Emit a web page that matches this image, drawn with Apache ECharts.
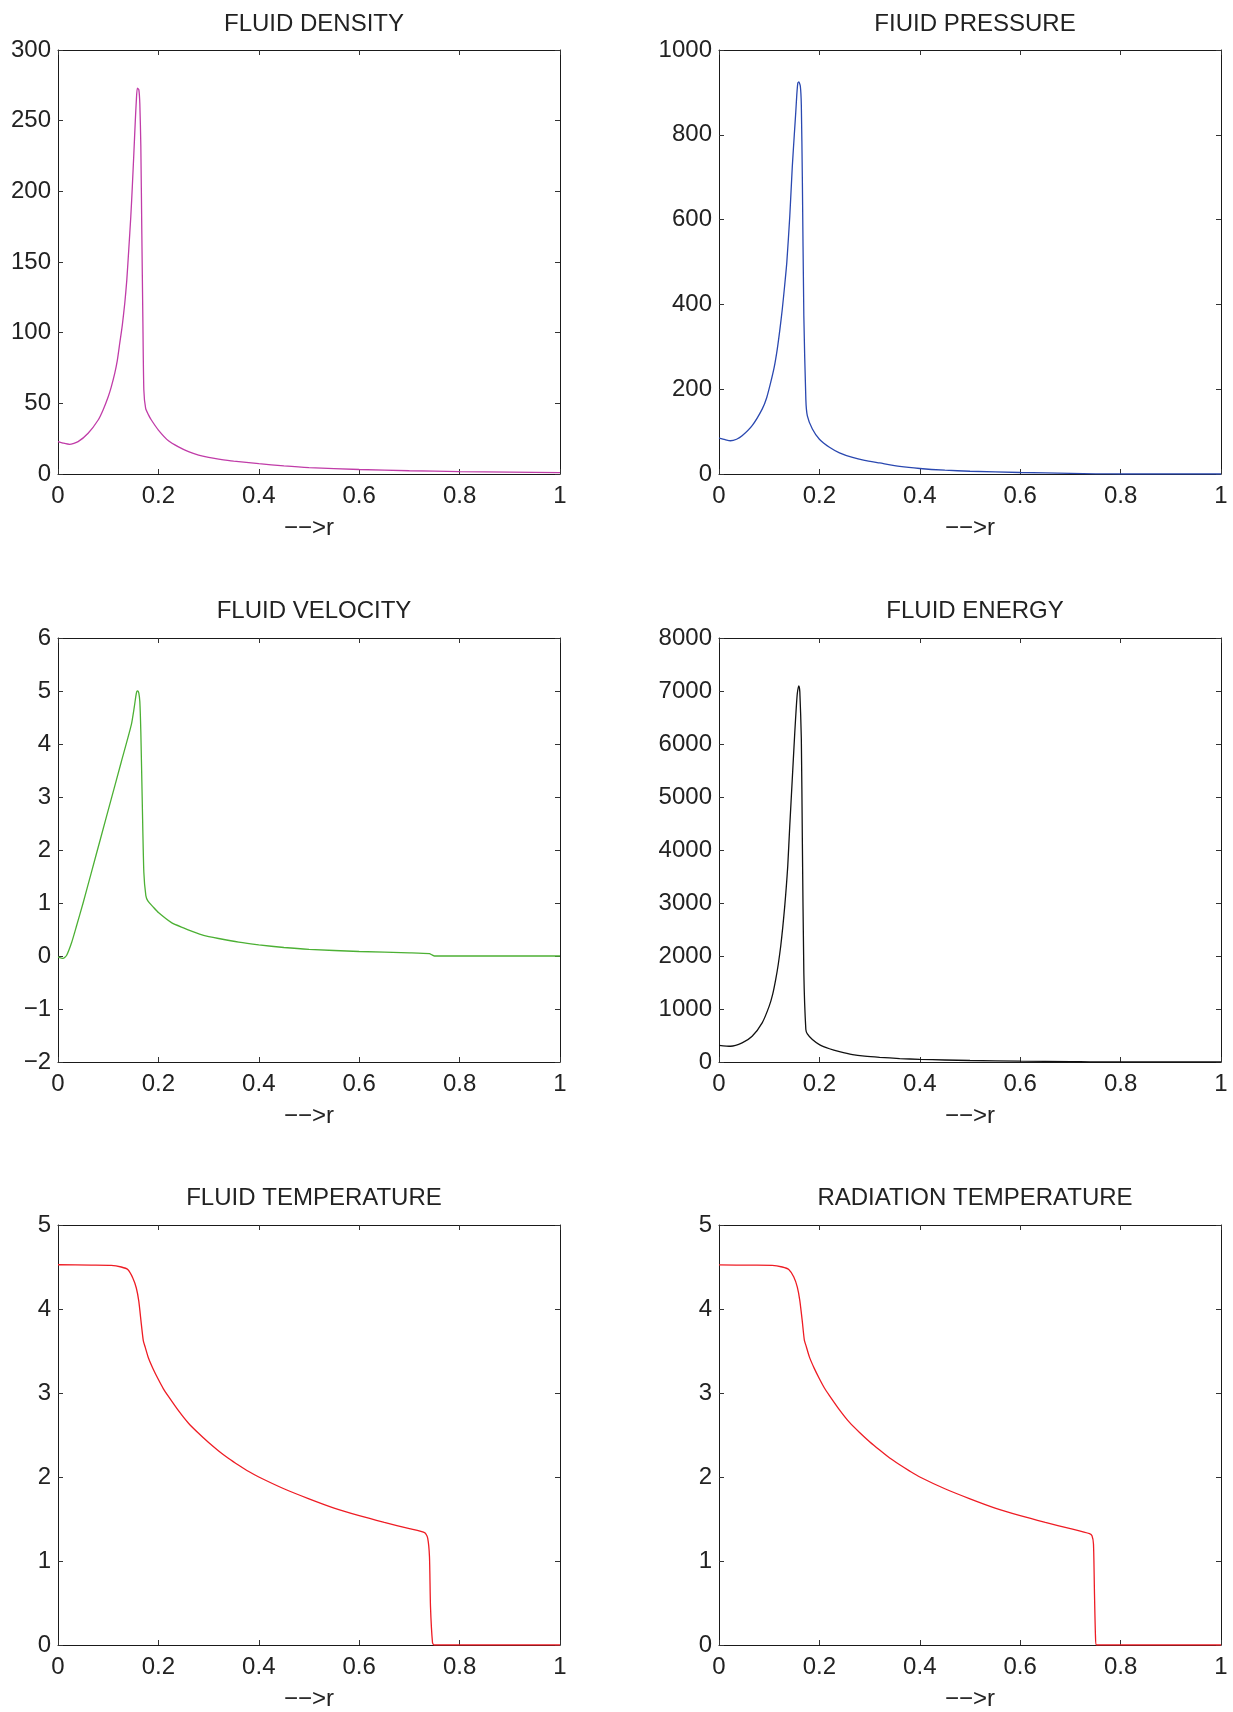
<!DOCTYPE html>
<html>
<head>
<meta charset="utf-8">
<script src="https://cdn.jsdelivr.net/npm/echarts@6/dist/echarts.min.js"></script>
<style>
html,body{margin:0;padding:0;background:#fff;}
#chart{width:1233px;height:1712px;}
</style>
</head>
<body>
<div id="chart"></div>
<script>
// ---- Data ----
const titles = ['FLUID DENSITY', 'FIUID PRESSURE', 'FLUID VELOCITY', 'FLUID ENERGY', 'FLUID TEMPERATURE', 'RADIATION TEMPERATURE'];
const xAxisName = '\u2212\u2212>r';
const xTicks = [0, 0.2, 0.4, 0.6, 0.8, 1];

const densityR = [0, 0.01, 0.023, 0.04, 0.06, 0.08, 0.09, 0.1, 0.106, 0.113, 0.118, 0.123, 0.128, 0.133, 0.137, 0.141, 0.145, 0.148, 0.151, 0.154, 0.156, 0.158, 0.161, 0.163, 0.165, 0.167, 0.169, 0.171, 0.1746, 0.18, 0.186, 0.2, 0.22, 0.24, 0.26, 0.28, 0.3, 0.32, 0.35, 0.4, 0.45, 0.5, 0.6, 0.7, 0.8, 0.9, 1.0];
const densityV = [22.9, 21.9, 21.0, 22.9, 28.8, 38.2, 45.5, 54.7, 61.5, 71.2, 80, 92.5, 105, 120.8, 137, 159, 182, 203, 226, 250, 264, 273, 272, 262, 232, 170, 111, 59.4, 46.5, 42, 38.2, 31.1, 23.5, 19.2, 15.8, 13.4, 11.8, 10.6, 9.1, 7.3, 5.7, 4.5, 3.2, 2.3, 1.7, 1.3, 1.0];

const pressureR = [0, 0.012, 0.023, 0.035, 0.046, 0.066, 0.086, 0.095, 0.103, 0.11, 0.116, 0.121, 0.126, 0.131, 0.135, 0.141, 0.146, 0.15, 0.153, 0.155, 0.157, 0.159, 0.162, 0.164, 0.166, 0.169, 0.173, 0.176, 0.186, 0.2, 0.22, 0.24, 0.266, 0.29, 0.32, 0.36, 0.4, 0.45, 0.5, 0.6, 0.7, 0.75, 0.8, 1.0];
const pressureV = [84.7, 81, 78.4, 82, 90, 114, 153, 180, 216, 252, 294, 338, 388, 447, 498, 608, 725, 800, 855, 895, 922, 925, 915, 870, 700, 372, 176, 137, 106, 82, 63, 50, 39, 32, 26, 18, 13, 9, 6.5, 3.5, 1.5, 0.5, 0, 0];

const velocityR = [0, 0.01, 0.017, 0.027, 0.037, 0.05, 0.066, 0.086, 0.106, 0.126, 0.146, 0.152, 0.155, 0.157, 0.159, 0.161, 0.163, 0.165, 0.168, 0.171, 0.175, 0.179, 0.19, 0.2, 0.226, 0.25, 0.266, 0.29, 0.32, 0.36, 0.4, 0.45, 0.5, 0.6, 0.7, 0.74, 0.745, 0.75, 1.0];
const velocityV = [-0.02, -0.045, 0.01, 0.25, 0.57, 1.0, 1.56, 2.26, 2.96, 3.66, 4.36, 4.7, 4.9, 4.99, 5.0, 4.96, 4.8, 4.23, 2.84, 1.58, 1.14, 1.04, 0.92, 0.82, 0.63, 0.53, 0.47, 0.39, 0.33, 0.26, 0.21, 0.16, 0.125, 0.085, 0.06, 0.045, 0.02, 0, 0];

const energyR = [0, 0.023, 0.046, 0.066, 0.086, 0.1, 0.107, 0.113, 0.118, 0.123, 0.127, 0.131, 0.134, 0.137, 0.141, 0.146, 0.151, 0.154, 0.156, 0.159, 0.161, 0.164, 0.166, 0.169, 0.173, 0.176, 0.186, 0.2, 0.22, 0.24, 0.266, 0.29, 0.32, 0.36, 0.4, 0.45, 0.5, 0.6, 0.7, 0.75, 1.0];
const energyV = [315, 297, 360, 486, 738, 1054, 1280, 1558, 1840, 2189, 2540, 2946, 3300, 3703, 4461, 5344, 6227, 6700, 6953, 7098, 6984, 6101, 4208, 1685, 612, 530, 423, 328, 250, 195, 139, 110, 88, 65, 50, 38, 28, 15, 8, 0, 0];

const fluidTempR = [0, 0.066, 0.106, 0.126, 0.139, 0.149, 0.156, 0.161, 0.166, 0.170, 0.174, 0.18, 0.19, 0.2, 0.21, 0.22, 0.24, 0.26, 0.28, 0.3, 0.32, 0.34, 0.36, 0.38, 0.4, 0.45, 0.5, 0.55, 0.6, 0.65, 0.7, 0.731, 0.7365, 0.74, 0.742, 0.746, 0.749, 1.0];
const fluidTempV = [4.527, 4.523, 4.52, 4.50, 4.47, 4.37, 4.25, 4.09, 3.82, 3.62, 3.54, 3.42, 3.28, 3.16, 3.05, 2.96, 2.79, 2.64, 2.52, 2.41, 2.31, 2.22, 2.14, 2.065, 2.0, 1.86, 1.74, 1.63, 1.54, 1.46, 1.385, 1.335, 1.27, 1.05, 0.46, 0.03, 0, 0];

const radTempR = [0, 0.066, 0.106, 0.126, 0.139, 0.149, 0.156, 0.161, 0.166, 0.170, 0.174, 0.18, 0.19, 0.2, 0.21, 0.22, 0.24, 0.26, 0.28, 0.3, 0.32, 0.34, 0.36, 0.38, 0.4, 0.45, 0.5, 0.55, 0.6, 0.65, 0.7, 0.738, 0.743, 0.746, 0.748, 0.75, 0.752, 1.0];
const radTempV = [4.525, 4.522, 4.52, 4.50, 4.47, 4.38, 4.26, 4.10, 3.85, 3.63, 3.55, 3.43, 3.29, 3.17, 3.06, 2.97, 2.80, 2.65, 2.53, 2.42, 2.32, 2.225, 2.145, 2.07, 2.0, 1.86, 1.74, 1.63, 1.54, 1.46, 1.385, 1.325, 1.30, 1.2, 0.6, 0.1, 0, 0];

const yMins = [0, 0, -2, 0, 0, 0];
const yMaxs = [300, 1000, 6, 8000, 5, 5];
const yIntervals = [50, 200, 1, 1000, 1, 1];
const colors = ['#c03ca8', '#2a48b0', '#4cb034', '#111111', '#ee1c24', '#ee1c24'];

// ---- Build chart ----
const seriesR = [densityR, pressureR, velocityR, energyR, fluidTempR, radTempR];
const seriesV = [densityV, pressureV, velocityV, energyV, fluidTempV, radTempV];

const lefts = [58, 719];
const tops = [50, 638, 1225];
const W = 502, H = 424;
const FONT = '"Liberation Sans", Arial, Helvetica, sans-serif';
const TXT = '#222';

const grid = [], xAxis = [], yAxis = [], series = [], title = [];
for (let i = 0; i < 6; i++) {
  const col = i % 2, row = Math.floor(i / 2);
  grid.push({left: lefts[col], top: tops[row], width: W, height: H, containLabel: false});
  title.push({
    text: titles[i], left: lefts[col] + W / 2, top: tops[row] - (row === 0 ? 43 : 44), textAlign: 'center',
    textStyle: {fontFamily: FONT, fontSize: 24, fontWeight: 'normal', color: TXT}
  });
  const axLine = {show: true, onZero: false, lineStyle: {color: '#1a1a1a', width: 1}};
  const tick = {show: true, inside: true, length: 5, lineStyle: {color: '#333', width: 1}};
  xAxis.push({
    type: 'value', gridIndex: i, position: 'bottom', min: 0, max: 1, interval: 0.2,
    axisLine: axLine, axisTick: tick, splitLine: {show: false},
    axisLabel: {margin: 10, fontFamily: FONT, fontSize: 24, color: TXT,
      formatter: v => String(Math.round(v * 10) / 10)},
    name: xAxisName, nameLocation: 'middle', nameGap: 42,
    nameTextStyle: {fontFamily: FONT, fontSize: 24, color: TXT}
  });
  xAxis.push({
    type: 'value', gridIndex: i, position: 'top', min: 0, max: 1, interval: 0.2,
    axisLine: axLine, axisTick: tick, splitLine: {show: false}, axisLabel: {show: false}
  });
  yAxis.push({
    type: 'value', gridIndex: i, position: 'left', min: yMins[i], max: yMaxs[i], interval: yIntervals[i],
    axisLine: axLine, axisTick: tick, splitLine: {show: false},
    axisLabel: {margin: 7, fontFamily: FONT, fontSize: 24, color: TXT,
      formatter: v => String(v).replace('-', '\u2212')}
  });
  yAxis.push({
    type: 'value', gridIndex: i, position: 'right', min: yMins[i], max: yMaxs[i], interval: yIntervals[i],
    axisLine: axLine, axisTick: tick, splitLine: {show: false}, axisLabel: {show: false}
  });
  series.push({
    type: 'line', xAxisIndex: 2 * i, yAxisIndex: 2 * i,
    data: seriesR[i].map((r, k) => [r, seriesV[i][k]]),
    showSymbol: false, symbol: 'none', smooth: 0.2,
    lineStyle: {color: colors[i], width: 1.3}, clip: true, animation: false
  });
}

const chart = echarts.init(document.getElementById('chart'), null, {renderer: 'canvas'});
chart.setOption({
  backgroundColor: '#fff', animation: false,
  title: title, grid: grid, xAxis: xAxis, yAxis: yAxis, series: series
});
</script>
</body>
</html>
